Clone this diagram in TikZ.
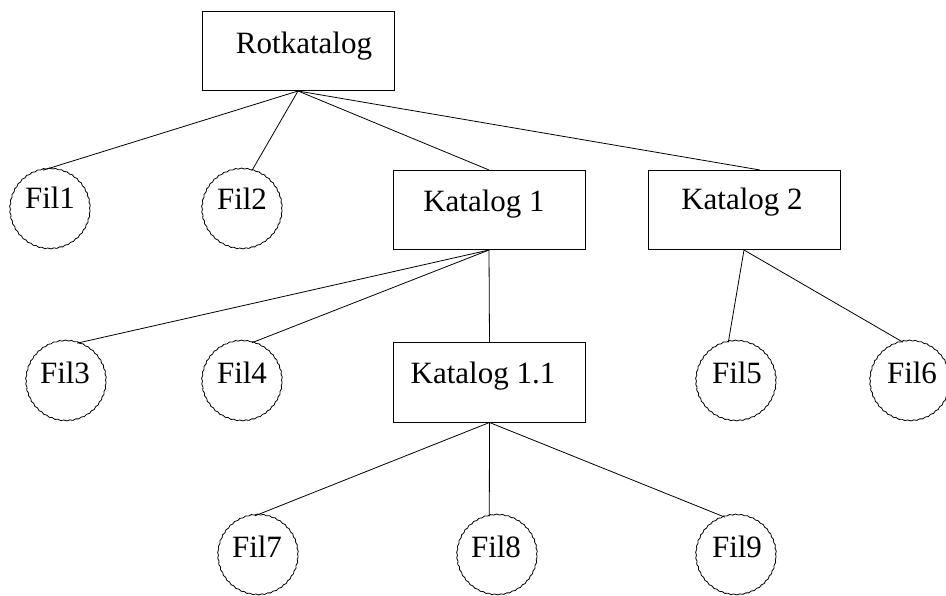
\documentclass[tikz,border=0pt]{standalone}
\usepackage{fontspec}
\setmainfont{Liberation Serif}
\usetikzlibrary{decorations.pathmorphing,calc}

\begin{document}
\begin{tikzpicture}[x=1pt,y=-1pt,
  dirbox/.style={draw, line width=1pt, minimum width=192pt, minimum height=79pt, inner sep=0pt},
  filecirc/.style={circle, draw, line width=0.8pt, minimum size=80pt, inner sep=0pt,
    decorate, decoration={snake, amplitude=0.45pt, segment length=6pt}},
  lbl/.style={anchor=base, inner sep=0pt, font=\fontsize{31}{36}\selectfont},
  link/.style={line width=0.8pt}]

\useasboundingbox (0,0) rectangle (946,596);

% directories
\node[dirbox] (root) at (298,51) {};
\node[dirbox] (k1)   at (489,210) {};
\node[dirbox] (k2)   at (744,210) {};
\node[dirbox] (k11)  at (489.5,382.5) {};

% files
\node[filecirc] (f1) at (50,210) {};
\node[filecirc] (f2) at (242,210) {};
\node[filecirc] (f3) at (66,382) {};
\node[filecirc] (f4) at (242,382) {};
\node[filecirc] (f5) at (736,382) {};
\node[filecirc] (f6) at (910,382) {};
\node[filecirc] (f7) at (258,556) {};
\node[filecirc] (f8) at (497,556) {};
\node[filecirc] (f9) at (736,556) {};

% labels
\node[lbl] (t-root) at (304,54)  {Rotkatalog};
\node[lbl] (t-k1)   at (484,212) {Katalog 1};
\node[lbl] (t-k2)   at (742,210) {Katalog 2};
\node[lbl] (t-k11)  at (483,383) {Katalog 1.1};
\node[lbl] (t-f1) at (50,209)  {Fil1};
\node[lbl] (t-f2) at (242,210) {Fil2};
\node[lbl] (t-f3) at (65,383)  {Fil3};
\node[lbl] (t-f4) at (242,383) {Fil4};
\node[lbl] (t-f5) at (737,383) {Fil5};
\node[lbl] (t-f6) at (912,383) {Fil6};
\node[lbl] (t-f7) at (257,557) {Fil7};
\node[lbl] (t-f8) at (496,557) {Fil8};
\node[lbl] (t-f9) at (737,557) {Fil9};

% tree edges
\coordinate (k2top) at ($(k2.north)+(16,0)$);
\draw[link] (root.south) -- (f1.100);
\draw[link] (root.south) -- (f2.76);
\draw[link] (root.south) -- (k1.north);
\draw[link] (root.south) -- (k2top);

\draw[link] (k1.south) -- (f3.74);
\draw[link] (k1.south) -- (f4.76);
\draw[link] (k1.south) -- (k11.north);

\draw[link] (k2.south) -- (f5.101);
\draw[link] (k2.south) -- (f6.100);

\draw[link] (k11.south) -- (f7.94);
\draw[link] (k11.south) -- (f8.101);
\draw[link] (k11.south) -- (f9.106);
\end{tikzpicture}
\end{document}
